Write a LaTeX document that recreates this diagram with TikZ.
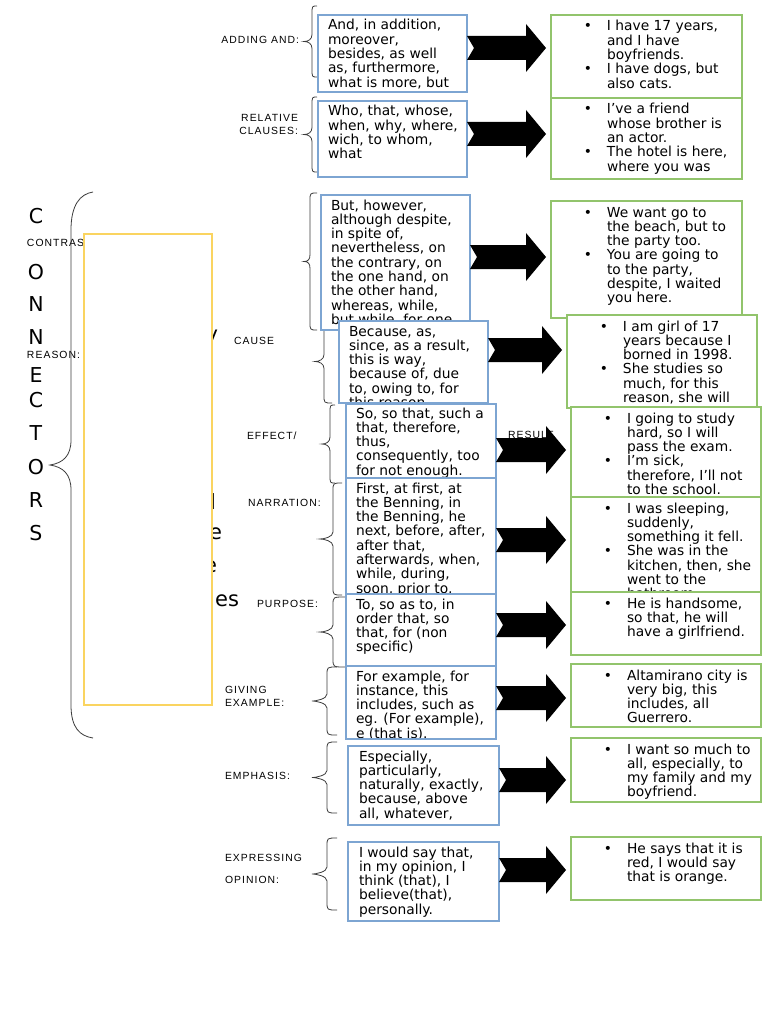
\documentclass[tikz,border=0pt]{standalone}
\usepackage{fontspec}
\setmainfont{DejaVu Sans}
\newfontfamily\lblfont[LetterSpace=10]{Liberation Sans}
\usetikzlibrary{calc}
\definecolor{boxblue}{RGB}{125,165,210}
\definecolor{boxgreen}{RGB}{146,196,108}
\definecolor{boxyellow}{RGB}{250,212,96}
\definecolor{bracegray}{RGB}{60,60,60}

\tikzset{
 every node/.style={inner sep=0pt, outer sep=0pt},
 bluebox/.style={draw=boxblue, fill=white, line width=1.2pt},
 greenbox/.style={draw=boxgreen, fill=white, line width=1.2pt},
 boxtext/.style={anchor=north west, align=left, font=\fontsize{13.8}{14.3}\selectfont},
 lbl/.style={font=\lblfont\fontsize{10.4}{13}\selectfont},
 bigletter/.style={font=\fontsize{20.5}{20.5}\selectfont},
 hiddentext/.style={font=\fontsize{21}{21}\selectfont},
 bracestyle/.style={draw=bracegray, line width=0.8pt},
 blockarrow/.style={fill=black},
}

\newcommand\tbox[9]{%
 \node[#2, anchor=north west, minimum width={#6-#4}, minimum height={#7-#5}] (#1) at (#4,#5) {};
 \begin{scope}
  \clip (#1.north west) rectangle (#1.south east);
  \node[boxtext] at ($(#1.north west)+(#3,#9)$) {\rule{0pt}{11pt}#8};
 \end{scope}
 \draw[#2, fill=none] (#1.north west) rectangle (#1.south east);
}
\newcommand\bu{\leavevmode\llap{\textbullet\hspace{15pt}}}
\newcommand\blkarrow[3]{%
 \coordinate (tl) at (#1.east |- 0,#3);
 \coordinate (tp) at ($(#2.west |- 0,#3)+(-5,0)$);
 \fill[blockarrow] ($(tl)+(0,-12)$) -- ($(tp)+(-20,-12)$) -- ($(tp)+(-20,-24)$) -- (tp)
   -- ($(tp)+(-20,24)$) -- ($(tp)+(-20,12)$) -- ($(tl)+(0,12)$) -- ($(tl)+(7,0)$) -- cycle;
}
\newcommand\sbrace[5]{%
 \pgfmathsetmacro\ymid{(#4+#5)/2}
 \draw[bracestyle] (#1,#4) .. controls (#2,#4) and (#2,#4) .. (#2,#4+8) -- (#2,\ymid-7)
   .. controls (#2,\ymid-2) and (#3+4,\ymid) .. (#3,\ymid)
   .. controls (#3+4,\ymid) and (#2,\ymid+2) .. (#2,\ymid+7) -- (#2,#5-8)
   .. controls (#2,#5) and (#2,#5) .. (#1,#5);
}

\begin{document}
\begin{tikzpicture}[x=1pt,y=-1pt]
\useasboundingbox (0,0) rectangle (768,1024);
\fill[white] (0,0) rectangle (768,1024);

% title letters
\foreach \ch/\yy [count=\i] in {C/216,O/272,N/304,N/337,E/375,C/400,T/433,O/467,R/500,S/533}
  \node[bigletter] (t\i) at (36,\yy) {\ch};

% labels partly hidden by the yellow box
\node[lbl, anchor=west] (lcontrast) at (27,243) {CONTRAST:};
\node[lbl, anchor=west] (lreason) at (27,355) {REASON:};
\node[hiddentext, anchor=base east] (h1) at (218,341) {y};
\node[hiddentext] (h2) at (213,502) {l};
\node[hiddentext, anchor=base east] (h3) at (222,539) {e};
\node[hiddentext, anchor=base east] (h4) at (217,572) {e};
\node[hiddentext, anchor=base east] (h5) at (239,606) {es};

% yellow box
\node[draw=boxyellow, fill=white, line width=1.3pt, anchor=north west,
      minimum width=128, minimum height=471] (ybox) at (84,234) {};

% big brace
\draw[bracestyle] (93,192) .. controls (80,194) and (71,205) .. (71,230) -- (71,440)
  .. controls (71,456) and (63,463) .. (50,465) .. controls (63,467) and (71,474) .. (71,490)
  -- (71,705) .. controls (71,728) and (80,736) .. (93,738);

% labels
\node[lbl, anchor=east] (ladd) at (299,40) {ADDING AND:};
\node[lbl, anchor=east, align=right] (lrel) at (298,124) {RELATIVE\\CLAUSES:};
\node[lbl, anchor=west] (lcause) at (234,341) {CAUSE};
\node[lbl, anchor=west] (leffect) at (247,436) {EFFECT/};
\node[lbl, anchor=west] (lresult) at (508,435) {RESULT};
\node[lbl, anchor=west] (lnarr) at (248,503) {NARRATION:};
\node[lbl, anchor=west] (lpurp) at (257,604) {PURPOSE:};
\node[lbl, anchor=west, align=left] (lgiv) at (225,696) {GIVING\\EXAMPLE:};
\node[lbl, anchor=west] (lemph) at (225,776) {EMPHASIS:};
\node[lbl, anchor=west] (lexp) at (225,858) {EXPRESSING};
\node[lbl, anchor=west] (lopin) at (225,880) {OPINION:};

% small braces
\sbrace{317}{312}{304}{6}{77}
\sbrace{317}{312}{304}{97}{172}
\sbrace{317}{310}{304}{193}{330}
\sbrace{332}{324}{315}{320}{403}
\sbrace{335}{330}{322}{405}{483}
\sbrace{342}{333}{320}{483}{595}
\sbrace{345}{333}{320}{597}{667}
\sbrace{337}{327}{312}{667}{735}
\sbrace{337}{327}{312}{742}{813}
\sbrace{337}{327}{312}{838}{910}

% blue boxes
\tbox{b1}{bluebox}{10}{318}{15}{467}{92}{And, in addition,\\moreover,\\besides, as well\\as, furthermore,\\what is more, but}{4}
\tbox{b2}{bluebox}{10}{318}{101}{467}{177}{Who, that, whose,\\when, why, where,\\wich, to whom,\\what}{4}
\tbox{b3}{bluebox}{10}{321}{195}{470}{330}{But, however,\\although despite,\\in spite of,\\nevertheless, on\\the contrary, on\\the one hand, on\\the other hand,\\whereas, while,\\but while, for one}{4}
\tbox{b4}{bluebox}{10}{339}{321}{488}{403}{Because, as,\\since, as a result,\\this is way,\\because of, due\\to, owing to, for\\this reason}{4}
\tbox{b5}{bluebox}{10}{346}{404}{496}{480}{So, so that, such a\\that, therefore,\\thus,\\consequently, too\\for not enough.}{3}
\tbox{b6}{bluebox}{10}{346}{478}{496}{594}{First, at first, at\\the Benning, in\\the Benning, he\\next, before, after,\\after that,\\afterwards, when,\\while, during,\\soon, prior to,}{4}
\tbox{b7}{bluebox}{10}{346}{594}{496}{666}{To, so as to, in\\order that, so\\that, for (non\\specific)}{4}
\tbox{b8}{bluebox}{10}{346}{666}{496}{739}{For example, for\\instance, this\\includes, such as\\eg. (For example),\\e (that is).}{4}
\tbox{b9}{bluebox}{11}{348}{746}{499}{825}{Especially,\\particularly,\\naturally, exactly,\\because, above\\all, whatever,}{4}
\tbox{b10}{bluebox}{11}{348}{842}{499}{921}{I would say that,\\in my opinion, I\\think (that), I\\believe(that),\\personally.}{4}

% green boxes
\tbox{g1}{greenbox}{56}{551}{15}{742}{98}{\bu I have 17 years,\\and I have\\boyfriends.\\\bu I have dogs, but\\also cats.}{5}
\tbox{g2}{greenbox}{56}{551}{98}{742}{179}{\bu I’ve a friend\\whose brother is\\an actor.\\\bu The hotel is here,\\where you was}{5}
\tbox{g3}{greenbox}{56}{551}{201}{742}{318}{\bu We want go to\\the beach, but to\\the party too.\\\bu You are going to\\to the party,\\despite, I waited\\you here.}{5}
\tbox{g4}{greenbox}{56}{567}{315}{757}{408}{\bu I am girl of 17\\years because I\\borned in 1998.\\\bu She studies so\\much, for this\\reason, she will}{5}
\tbox{g5}{greenbox}{56}{571}{407}{761}{497}{\bu I going to study\\hard, so I will\\pass the exam.\\\bu I’m sick,\\therefore, I’ll not\\to the school.}{5}
\tbox{g6}{greenbox}{56}{571}{497}{761}{592}{\bu I was sleeping,\\suddenly,\\something it fell.\\\bu She was in the\\kitchen, then, she\\went to the\\bathroom.}{5}
\tbox{g7}{greenbox}{56}{571}{592}{761}{655}{\bu He is handsome,\\so that, he will\\have a girlfriend.}{5}
\tbox{g8}{greenbox}{56}{571}{664}{761}{727}{\bu Altamirano city is\\very big, this\\includes, all\\Guerrero.}{5}
\tbox{g9}{greenbox}{56}{571}{738}{761}{802}{\bu I want so much to\\all, especially, to\\my family and my\\boyfriend.}{5}
\tbox{g10}{greenbox}{56}{571}{837}{761}{900}{\bu He says that it is\\red, I would say\\that is orange.}{5}

% block arrows
\blkarrow{b1}{g1}{48}
\blkarrow{b2}{g2}{134}
\blkarrow{b3}{g3}{257}
\blkarrow{b4}{g4}{350}
\blkarrow{b5}{g5}{450}
\blkarrow{b6}{g6}{540}
\blkarrow{b7}{g7}{625}
\blkarrow{b8}{g8}{698}
\blkarrow{b9}{g9}{780}
\blkarrow{b10}{g10}{870}
\end{tikzpicture}
\end{document}
